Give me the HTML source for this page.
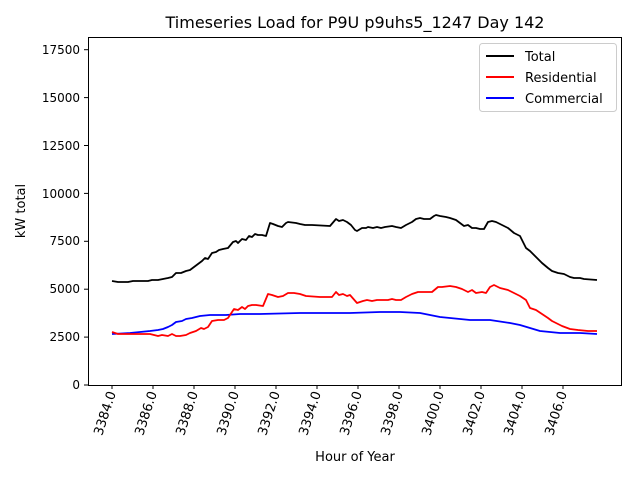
<!DOCTYPE html>
<html><head><style>body{margin:0;background:#fff}svg{display:block}text{font-family:"DejaVu Sans","Liberation Sans",sans-serif;fill:#000}</style></head>
<body>
<svg width="640" height="480" viewBox="0 0 640 480">
<rect x="88.5" y="37.5" width="533" height="348" fill="none" stroke="#000" stroke-width="1"/>
<text x="355" y="28" font-size="16" text-anchor="middle">Timeseries Load for P9U p9uhs5_1247  Day 142</text>
<g font-size="12" text-anchor="end">
<line x1="84" x2="88" y1="385" y2="385" stroke="#000"/><text x="80" y="389">0</text>
<line x1="84" x2="88" y1="337.1" y2="337.1" stroke="#000"/><text x="80" y="341">2500</text>
<line x1="84" x2="88" y1="289.2" y2="289.2" stroke="#000"/><text x="80" y="293">5000</text>
<line x1="84" x2="88" y1="241.3" y2="241.3" stroke="#000"/><text x="80" y="245">7500</text>
<line x1="84" x2="88" y1="193.4" y2="193.4" stroke="#000"/><text x="80" y="198">10000</text>
<line x1="84" x2="88" y1="145.5" y2="145.5" stroke="#000"/><text x="80" y="150">12500</text>
<line x1="84" x2="88" y1="97.6" y2="97.6" stroke="#000"/><text x="80" y="102">15000</text>
<line x1="84" x2="88" y1="49.7" y2="49.7" stroke="#000"/><text x="80" y="54">17500</text>
</g>
<text transform="translate(25,211) rotate(-90)" font-size="13" text-anchor="middle">kW total</text>
<g font-size="13" text-anchor="end">
<g transform="translate(112,385)"><line y2="4" stroke="#000"/><text transform="translate(4,8) rotate(-72)">3384.0</text></g>
<g transform="translate(153,385)"><line y2="4" stroke="#000"/><text transform="translate(4,8) rotate(-72)">3386.0</text></g>
<g transform="translate(194,385)"><line y2="4" stroke="#000"/><text transform="translate(4,8) rotate(-72)">3388.0</text></g>
<g transform="translate(235,385)"><line y2="4" stroke="#000"/><text transform="translate(4,8) rotate(-72)">3390.0</text></g>
<g transform="translate(276,385)"><line y2="4" stroke="#000"/><text transform="translate(4,8) rotate(-72)">3392.0</text></g>
<g transform="translate(317,385)"><line y2="4" stroke="#000"/><text transform="translate(4,8) rotate(-72)">3394.0</text></g>
<g transform="translate(358,385)"><line y2="4" stroke="#000"/><text transform="translate(4,8) rotate(-72)">3396.0</text></g>
<g transform="translate(399,385)"><line y2="4" stroke="#000"/><text transform="translate(4,8) rotate(-72)">3398.0</text></g>
<g transform="translate(440,385)"><line y2="4" stroke="#000"/><text transform="translate(4,8) rotate(-72)">3400.0</text></g>
<g transform="translate(481,385)"><line y2="4" stroke="#000"/><text transform="translate(4,8) rotate(-72)">3402.0</text></g>
<g transform="translate(522,385)"><line y2="4" stroke="#000"/><text transform="translate(4,8) rotate(-72)">3404.0</text></g>
<g transform="translate(563,385)"><line y2="4" stroke="#000"/><text transform="translate(4,8) rotate(-72)">3406.0</text></g>
</g>
<text x="355" y="461" font-size="13" text-anchor="middle">Hour of Year</text>
<g fill="none" stroke-width="1.8" stroke-linejoin="round">
<polyline stroke="#0000ff" points="112,334 130,333 140,332 150,331 158,330 163,329 168,327 172,325 176,322 182,321 186,319 192,318 200,316 210,315 226,315 240,314 260,314 300,313 350,313 380,312 400,312 420,313 440,317 470,320 490,320 510,323 520,325 540,331 560,333 580,333 597,334"/>
<polyline stroke="#ff0000" points="112,332 118,334 126,334 134,334 150,334 154,335 158,336 162,335 168,336 172,334 176,336 180,336 186,335 190,333 196,331 201,328 204,329 208,327 212,321 218,320 224,320 228,318 234,309 238,310 242,307 245,309 248,306 252,305 256,305 263,306 268,294 272,295 278,297 283,296 288,293 294,293 300,294 306,296 320,297 332,297 336,292 339,295 343,294 347,296 350,295 357,303 363,301 367,300 372,301 377,300 381,300 388,300 392,299 396,300 401,300 406,297 412,294 418,292 424,292 432,292 438,287 442,287 450,286 456,287 462,289 468,292 472,290 476,293 482,292 486,293 490,287 494,285 500,288 508,290 514,293 520,296 526,300 530,308 536,310 542,314 548,318 552,321 556,323 562,326 570,329 578,330 588,331 597,331"/>
<polyline stroke="#000" points="112,281 118,282 128,282 133,281 148,281 152,280 158,280 163,279 168,278 172,277 176,273 181,273 186,271 190,270 194,267 198,264 202,261 205,258 208,259 212,253 216,252 219,250 223,249 228,248 233,242 236,241 238,243 242,239 246,240 249,236 252,237 255,234 258,235 262,235 266,236 270,223 273,224 278,226 282,227 286,223 288,222 296,223 300,224 305,225 312,225 330,226 336,219 339,221 343,220 347,222 351,225 355,230 357,231 362,228 366,228 368,227 373,228 377,227 381,228 385,227 392,226 396,227 401,228 406,225 412,222 416,219 420,218 424,219 430,219 434,216 436,215 440,216 446,217 450,218 456,220 460,223 464,226 468,225 472,228 476,228 480,229 484,229 488,222 492,221 496,222 502,225 508,228 514,233 520,236 526,248 530,251 536,257 542,263 548,268 552,271 558,273 564,274 570,277 574,278 580,278 584,279 597,280"/>
</g>
<rect x="479.5" y="43.5" width="137" height="68" rx="3" fill="#fff" stroke="#ccc"/>
<g font-size="13">
<line x1="486" x2="514" y1="56" y2="56" stroke="#000" stroke-width="2"/><text x="525" y="61">Total</text>
<line x1="486" x2="514" y1="77" y2="77" stroke="#ff0000" stroke-width="2"/><text x="525" y="82">Residential</text>
<line x1="486" x2="514" y1="98" y2="98" stroke="#0000ff" stroke-width="2"/><text x="525" y="103">Commercial</text>
</g>
</svg>
</body></html>
